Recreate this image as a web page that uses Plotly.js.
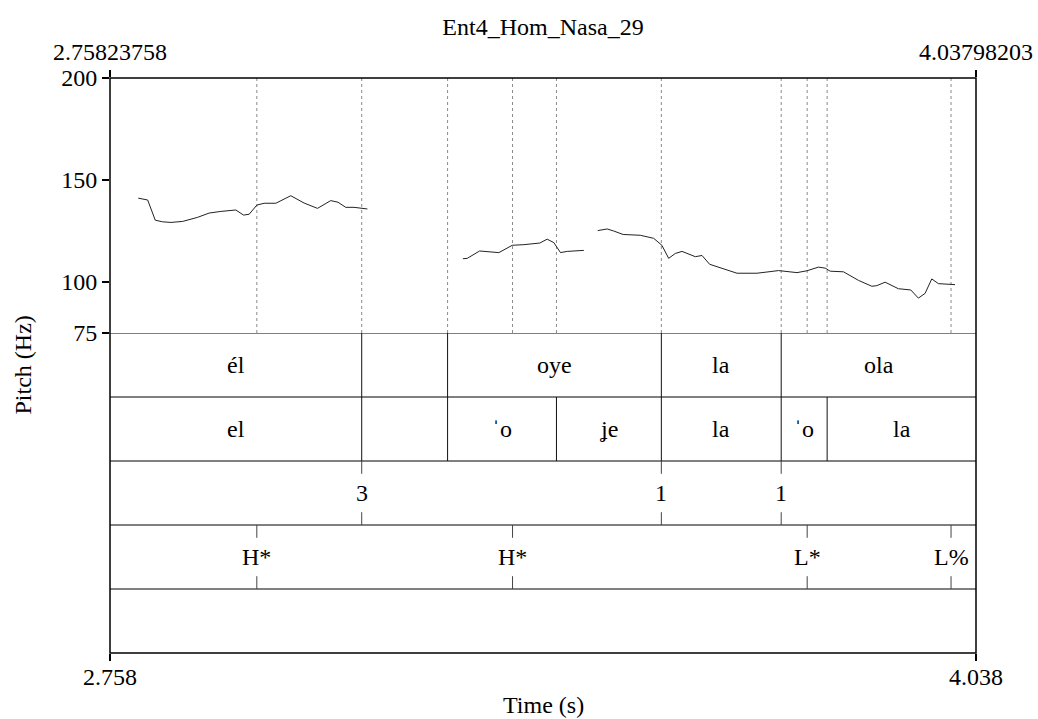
<!DOCTYPE html>
<html>
<head>
<meta charset="utf-8">
<script src="https://cdn.plot.ly/plotly-3.0.1.min.js"></script>
<style>html,body{margin:0;padding:0;background:#fff;}#chart{width:1038px;height:719px;}</style>
</head>
<body>
<div id="chart"></div>
<script>
const T0 = 2.75823758, T1 = 4.03798203;
const chartTitle = 'Ent4_Hom_Nasa_29';
const bottomTickText = ['2.758', '4.038'];
const topTickText = ['2.75823758', '4.03798203'];

// Pitch contour (s, Hz), three voiced stretches
const seg1Time = [2.8000,2.8139,2.8251,2.8360,2.8483,2.8656,2.8877,2.9048,2.9221,2.9442,2.9556,2.9639,2.9752,2.9860,3.0033,3.0254,3.0451,3.0648,3.0845,3.0952,3.1066,3.1189,3.1386];
const seg1Hz   = [141.1,140.2,130.3,129.5,129.2,129.7,131.7,133.8,134.6,135.3,132.8,133.2,137.7,138.6,138.6,142.3,138.7,136.1,139.9,139.1,136.6,136.6,135.8];
const seg2Time = [3.2797,3.2862,3.3044,3.3206,3.3329,3.3527,3.3698,3.3934,3.4043,3.4141,3.4240,3.4339,3.4584];
const seg2Hz   = [111.4,111.6,115.2,114.7,114.4,118.0,118.3,119.1,121.0,119.3,114.4,115.0,115.5];
const seg3Time = [3.4790,3.4929,3.5026,3.5165,3.5420,3.5617,3.5738,3.5838,3.5937,3.6036,3.6232,3.6331,3.6443,3.6650,3.6848,3.7143,3.7291,3.7462,3.7734,3.7881,3.8052,3.8151,3.8225,3.8421,3.8643,3.8841,3.8914,3.9037,3.9233,3.9416,3.9528,3.9627,3.9726,3.9824,4.0070];
const seg3Hz   = [125.2,126.0,125.0,123.3,122.9,121.4,118.0,111.6,114.0,115.0,112.4,113.0,108.7,106.6,104.3,104.3,104.8,105.6,104.6,105.5,107.3,106.8,105.3,105.0,100.8,97.9,98.2,99.9,96.7,96.1,92.1,94.4,101.5,99.2,98.7];

const pitchTicks = [75, 100, 150, 200];

// Tier 1: words (interval)
const wordBounds = [T0, 3.1302, 3.2571, 3.5730, 3.7501, T1];
const wordLabels = ['él', '', 'oye', 'la', 'ola'];
// Tier 2: syllables (interval)
const sylBounds = [T0, 3.1302, 3.2571, 3.4180, 3.5730, 3.7501, 3.8180, T1];
const sylLabels = ['el', '', 'ˈo', 'ʝe', 'la', 'ˈo', 'la'];
// Tier 3: break indices (point)
const breakTimes = [3.1302, 3.5730, 3.7501];
const breakLabels = ['3', '1', '1'];
// Tier 4: tones (point)
const toneTimes = [2.9752, 3.3531, 3.7885, 4.0011];
const toneLabels = ['H*', 'H*', 'L*', 'L%'];
// Tier 5: empty
const NTIERS = 5;

const FONT = 'Liberation Serif';
const fnt = {family: FONT, size: 24, color: '#000'};

const shapes = [];
const annotations = [];

// dotted lines in pitch area at every boundary/point
const allTimes = [];
[wordBounds.slice(1, -1), sylBounds.slice(1, -1), breakTimes, toneTimes].forEach(a => a.forEach(t => { if (!allTimes.some(u => Math.abs(u - t) < 1e-6)) allTimes.push(t); }));
allTimes.forEach(t => shapes.push({type: 'line', xref: 'x', yref: 'y', x0: t, x1: t, y0: 75, y1: 200, line: {color: '#8a8a8a', width: 1, dash: 'dot'}, layer: 'below'}));

// tier separators
for (let i = 0; i < NTIERS; i++) {
  shapes.push({type: 'line', xref: 'paper', yref: 'y2', x0: 0, x1: 1, y0: NTIERS - i, y1: NTIERS - i, line: {color: '#000', width: 1}});
}

function intervalTier(idx, bounds, labels) {
  const top = NTIERS - idx, bot = top - 1;
  bounds.slice(1, -1).forEach(t => shapes.push({type: 'line', xref: 'x', yref: 'y2', x0: t, x1: t, y0: bot, y1: top, line: {color: '#111', width: 1}}));
  labels.forEach((lab, k) => {
    if (!lab) return;
    annotations.push({xref: 'x', yref: 'y2', x: (bounds[k] + bounds[k + 1]) / 2, y: bot + 0.5, text: lab, showarrow: false, font: fnt});
  });
}
function pointTier(idx, times, labels) {
  const top = NTIERS - idx, bot = top - 1;
  times.forEach((t, k) => {
    shapes.push({type: 'line', xref: 'x', yref: 'y2', x0: t, x1: t, y0: top - 0.2, y1: top, line: {color: '#444', width: 1}});
    shapes.push({type: 'line', xref: 'x', yref: 'y2', x0: t, x1: t, y0: bot, y1: bot + 0.2, line: {color: '#444', width: 1}});
    annotations.push({xref: 'x', yref: 'y2', x: t, y: bot + 0.5, text: labels[k], showarrow: false, font: fnt});
  });
}
intervalTier(0, wordBounds, wordLabels);
intervalTier(1, sylBounds, sylLabels);
pointTier(2, breakTimes, breakLabels);
pointTier(3, toneTimes, toneLabels);

// outer frame
shapes.push({type: 'rect', xref: 'paper', yref: 'paper', x0: 0, x1: 1, y0: 0, y1: 1, line: {color: '#000', width: 1.5}});

// bottom time labels (positioned on the time scale)
[T0, T1].forEach((t, k) => annotations.push({xref: 'x', yref: 'paper', x: t, y: 0, yshift: -24, text: bottomTickText[k], showarrow: false, font: fnt, xanchor: 'center', yanchor: 'middle'}));

annotations.push({xref: 'paper', yref: 'paper', x: 0, y: 0.5, xshift: -88, text: 'Pitch (Hz)', textangle: -90, showarrow: false, font: fnt, xanchor: 'center', yanchor: 'middle'});
annotations.push({xref: 'paper', yref: 'paper', x: 0.5, y: 0, yshift: -52, text: 'Time (s)', showarrow: false, font: fnt, xanchor: 'center', yanchor: 'middle'});

const lineStyle = {color: '#222', width: 1};
const traces = [
  {x: seg1Time, y: seg1Hz, mode: 'lines', line: lineStyle, xaxis: 'x', yaxis: 'y', hoverinfo: 'skip'},
  {x: seg2Time, y: seg2Hz, mode: 'lines', line: lineStyle, xaxis: 'x', yaxis: 'y', hoverinfo: 'skip'},
  {x: seg3Time, y: seg3Hz, mode: 'lines', line: lineStyle, xaxis: 'x', yaxis: 'y', hoverinfo: 'skip'},
  {x: [T0], y: [null], mode: 'lines', xaxis: 'x2', yaxis: 'y', hoverinfo: 'skip'}
];

const pitchDomainBottom = 320 / 575;

const layout = {
  width: 1038, height: 719,
  margin: {l: 110, r: 62, t: 78, b: 66},
  paper_bgcolor: '#fff', plot_bgcolor: '#fff',
  showlegend: false,
  title: {text: chartTitle, font: fnt, x: 0.5, xref: 'paper', xanchor: 'center', y: 1 - 27 / 719, yref: 'container', yanchor: 'middle'},
  xaxis: {range: [T0, T1], tickvals: [T0, T1], showticklabels: false, ticks: 'outside', ticklen: 7, tickcolor: '#000', tickwidth: 1.5,
          showgrid: false, zeroline: false, showline: false, tickfont: fnt, anchor: 'y2'},
  xaxis2: {range: [T0, T1], overlaying: 'x', side: 'top', anchor: 'y', tickvals: [T0, T1], ticktext: topTickText,
           ticks: 'outside', ticklen: 7, tickcolor: '#000', tickwidth: 1.5, showgrid: false, zeroline: false, showline: false, tickfont: fnt},
  yaxis: {domain: [pitchDomainBottom, 1], range: [75, 200], tickvals: pitchTicks, ticks: 'outside', ticklen: 7, tickcolor: '#000', tickwidth: 1.5,
          showgrid: false, zeroline: false, showline: false, tickfont: fnt, anchor: 'x'},
  yaxis2: {domain: [0, pitchDomainBottom], range: [0, NTIERS], showticklabels: false, ticks: '', showgrid: false, zeroline: false, showline: false, anchor: 'x'},
  shapes: shapes,
  annotations: annotations
};

Plotly.newPlot('chart', traces, layout, {staticPlot: true, displayModeBar: false});
</script>
</body>
</html>
